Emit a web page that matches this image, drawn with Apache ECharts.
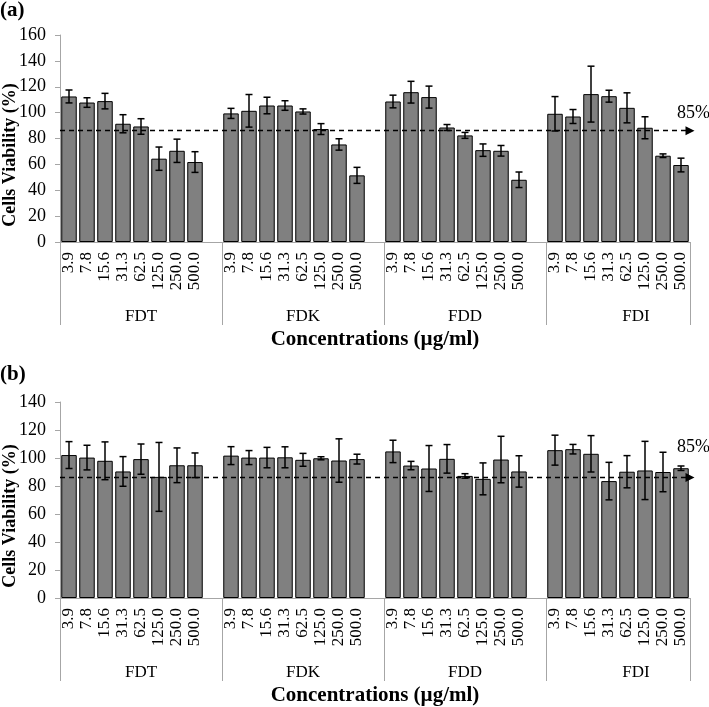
<!DOCTYPE html>
<html>
<head>
<meta charset="utf-8">
<script src="https://cdn.jsdelivr.net/npm/echarts@6/dist/echarts.min.js"></script>
<style>
html, body { margin: 0; padding: 0; background: #fff; }
#main { width: 709px; height: 707px; }
</style>
</head>
<body>
<div id="main"></div>
<script>
// concentrations (µg/ml) and the four extracts
var concentrations = ['3.9', '7.8', '15.6', '31.3', '62.5', '125.0', '250.0', '500.0'];
var extracts = ['FDT', 'FDK', 'FDD', 'FDI'];

// (a) mean viability (%) and error, order FDT, FDK, FDD, FDI
var meanA = [
  112.5, 107.8, 108.9, 91.4, 89.3, 64.4, 70.5, 61.8,
  99.4, 101.4, 105.5, 105.5, 100.9, 87.3, 75.4, 51.5,
  108.6, 115.8, 112.0, 88.5, 82.4, 71.0, 70.5, 48.1,
  99.1, 97.0, 114.3, 112.7, 103.7, 88.3, 66.7, 59.5
];
var errA = [
  5.0, 3.7, 6.0, 7.0, 6.0, 9.0, 9.0, 8.0,
  3.9, 12.6, 6.4, 3.7, 2.0, 4.2, 4.4, 6.2,
  4.9, 8.4, 8.5, 2.3, 2.3, 4.8, 4.1, 6.0,
  13.3, 5.4, 21.6, 4.6, 11.6, 8.5, 1.4, 5.3
];

// (b) mean viability (%) and error
var meanB = [
  102.1, 100.3, 98.0, 90.4, 99.2, 86.5, 94.8, 94.8,
  101.7, 100.3, 100.3, 100.5, 98.7, 99.8, 98.2, 99.2,
  104.7, 94.6, 92.5, 99.4, 87.2, 85.1, 98.9, 90.4,
  105.6, 106.3, 103.0, 83.5, 90.2, 91.1, 90.0, 92.7
];
var errB = [
  9.6, 8.8, 13.5, 10.6, 10.8, 24.6, 12.4, 8.8,
  6.4, 5.0, 7.3, 7.5, 4.6, 1.1, 15.5, 3.5,
  8.0, 3.0, 16.4, 10.2, 1.6, 11.4, 16.6, 11.2,
  10.7, 3.4, 13.0, 13.4, 11.5, 20.8, 14.1, 1.6
];

var cutoff = 86;
var cutoffLabel = '85%';

var serif = 'Liberation Serif';
var axisGray = '#a6a6a6';

// one empty slot between extracts, extract name under the middle of its group
var categories = [];
var groupLabels = [];
extracts.forEach(function (e, g) {
  concentrations.forEach(function (c, i) {
    categories.push(c);
    if (i === 4) {
      // FDI has no trailing gap, so nudge its label half a slot right
      groupLabels.push(g === 3 ? { value: e, textStyle: { padding: [0, 0, 0, 18] } } : e);
    } else {
      groupLabels.push('');
    }
  });
  if (g < extracts.length - 1) {
    categories.push('');
    groupLabels.push('');
  }
});

function toSlots(vals) {
  var out = [];
  extracts.forEach(function (e, g) {
    for (var i = 0; i < concentrations.length; i++) out.push(vals[g * 8 + i]);
    if (g < extracts.length - 1) out.push('-');
  });
  return out;
}

function toErr(means, errs) {
  var out = [];
  extracts.forEach(function (e, g) {
    for (var i = 0; i < concentrations.length; i++) {
      var k = g * 8 + i;
      out.push([g * 9 + i, means[k] - errs[k], means[k] + errs[k]]);
    }
  });
  return out;
}

function renderErr(params, api) {
  var x = api.value(0);
  var lo = api.coord([x, api.value(1)]);
  var hi = api.coord([x, api.value(2)]);
  var cap = 3.5;
  var st = { stroke: '#000', lineWidth: 1.5 };
  return {
    type: 'group',
    children: [
      { type: 'line', shape: { x1: lo[0], y1: lo[1], x2: hi[0], y2: hi[1] }, style: st },
      { type: 'line', shape: { x1: hi[0] - cap, y1: hi[1], x2: hi[0] + cap, y2: hi[1] }, style: st },
      { type: 'line', shape: { x1: lo[0] - cap, y1: lo[1], x2: lo[0] + cap, y2: lo[1] }, style: st }
    ]
  };
}

function mainX(gi) {
  return {
    type: 'category',
    gridIndex: gi,
    position: 'bottom',
    data: categories,
    axisLine: { lineStyle: { color: axisGray, width: 1 } },
    axisTick: {
      show: true,
      interval: function (i) { return i % 9 === 0; },
      length: 83,
      lineStyle: { color: axisGray }
    },
    axisLabel: { interval: 0, rotate: 90, margin: 10, fontFamily: serif, fontSize: 17, color: '#000' }
  };
}

function groupX(gi) {
  return {
    type: 'category',
    gridIndex: gi,
    position: 'bottom',
    data: groupLabels,
    axisLine: { show: false },
    axisTick: { show: false },
    axisLabel: { interval: 0, margin: 66, fontFamily: serif, fontSize: 17, color: '#000' },
    name: 'Concentrations (µg/ml)',
    nameLocation: 'middle',
    nameGap: 87,
    nameTextStyle: { fontFamily: serif, fontSize: 21, fontWeight: 'bold', color: '#000' }
  };
}

function valY(gi, max) {
  return {
    type: 'value',
    gridIndex: gi,
    min: 0,
    max: max,
    interval: 20,
    axisLine: { show: true, lineStyle: { color: axisGray } },
    axisTick: { show: true, length: 5, lineStyle: { color: axisGray } },
    splitLine: { show: false },
    axisLabel: { margin: 14, fontFamily: serif, fontSize: 18, color: '#000' }
  };
}

function barSeries(xi, yi, means, labelUp) {
  return {
    type: 'bar',
    xAxisIndex: xi,
    yAxisIndex: yi,
    data: toSlots(means),
    barCategoryGap: '14%',
    itemStyle: { color: '#808080', borderColor: '#000', borderWidth: 1 },
    silent: true,
    markLine: {
      silent: true,
      symbol: ['none', 'triangle'],
      symbolSize: 9,
      lineStyle: { color: '#000', type: [5, 4], width: 1.3 },
      label: {
        show: true,
        position: 'end',
        formatter: cutoffLabel,
        offset: [-18, -labelUp],
        fontFamily: serif,
        fontSize: 18,
        color: '#000'
      },
      data: [{ yAxis: cutoff }]
    }
  };
}

function errSeries(xi, yi, means, errs) {
  return {
    type: 'custom',
    xAxisIndex: xi,
    yAxisIndex: yi,
    renderItem: renderErr,
    encode: { x: 0, y: [1, 2] },
    data: toErr(means, errs),
    silent: true,
    z: 3
  };
}

var chart = echarts.init(document.getElementById('main'));
chart.setOption({
  animation: false,
  backgroundColor: '#fff',
  title: [
    { text: '(a)', left: 0, top: 0, padding: 0, textStyle: { fontFamily: serif, fontSize: 21, fontWeight: 'bold', color: '#000' } },
    { text: '(b)', left: 0, top: 364, padding: 0, textStyle: { fontFamily: serif, fontSize: 21, fontWeight: 'bold', color: '#000' } }
  ],
  grid: [
    { left: 60, right: 19, top: 35, height: 207 },
    { left: 60, right: 19, top: 402, height: 203 }
  ],
  xAxis: [mainX(0), groupX(0), mainX(1), groupX(1)],
  yAxis: [valY(0, 160), valY(1, 140)],
  graphic: [
    { type: 'text', x: 10, y: 155, rotation: Math.PI / 2,
      style: { text: 'Cells Viability (%)', align: 'center', verticalAlign: 'middle', font: 'bold 18px "Liberation Serif"', fill: '#000' } },
    { type: 'text', x: 10, y: 516, rotation: Math.PI / 2,
      style: { text: 'Cells Viability (%)', align: 'center', verticalAlign: 'middle', font: 'bold 18px "Liberation Serif"', fill: '#000' } }
  ],
  series: [
    barSeries(0, 0, meanA, 17),
    errSeries(0, 0, meanA, errA),
    barSeries(2, 1, meanB, 30),
    errSeries(2, 1, meanB, errB)
  ]
});
</script>
</body>
</html>
